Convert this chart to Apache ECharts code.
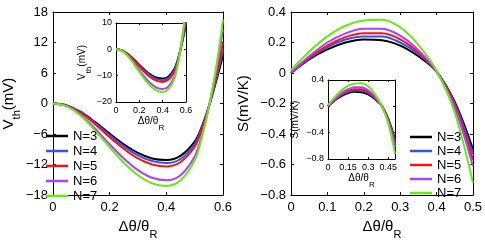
<!DOCTYPE html>
<html><head><meta charset="utf-8">
<script src="https://cdn.jsdelivr.net/npm/echarts@6/dist/echarts.min.js"></script>
<style>html,body{margin:0;padding:0;background:#fff}#c{width:485px;height:245px}</style>
</head><body><div id="c"></div>
<script>
// ---- data ----
const seriesNames = ['N=3','N=4','N=5','N=6','N=7'];
const seriesColors = ['#000000','#2f55f0','#ff1010','#b040ff','#66ea10'];

// Left panel: threshold voltage V_th (mV) vs Δθ/θ_R
const vthX  = [0, 0.05, 0.1, 0.15, 0.2, 0.25, 0.3, 0.35, 0.4, 0.45, 0.5, 0.525, 0.55, 0.575, 0.6];
const vthN3 = [0, -0.4, -1.7, -3.7, -5.9, -8.0, -9.7, -10.8, -11.1, -10.3, -7.5, -4.6, -0.6, 4.2, 9.5];
const vthN4 = [0, -0.4, -1.8, -3.9, -6.2, -8.4, -10.2, -11.3, -11.7, -10.9, -8.0, -4.9, -0.6, 4.6, 10.5];
const vthN5 = [0, -0.4, -1.9, -4.1, -6.6, -8.9, -10.8, -12.0, -12.4, -11.5, -8.5, -5.2, -0.6, 5.2, 12.0];
const vthN6 = [0, -0.5, -2.3, -5.0, -8.0, -10.8, -13.1, -14.6, -15.1, -14.1, -10.4, -6.3, -0.7, 6.3, 14.5];
const vthN7 = [0, -0.6, -2.5, -5.4, -8.6, -11.6, -14.1, -15.7, -16.2, -15.1, -11.2, -6.8, -0.8, 6.8, 16.5];

// Right panel: Seebeck S (mV/K) vs Δθ/θ_R
const sX  = [0, 0.05, 0.1, 0.15, 0.2, 0.25, 0.3, 0.35, 0.4, 0.45, 0.5];
const sN3 = [0, 0.09, 0.155, 0.2, 0.22, 0.215, 0.18, 0.11, 0.01, -0.19, -0.5];
const sN4 = [0, 0.095, 0.17, 0.22, 0.24, 0.24, 0.2, 0.125, 0.01, -0.2, -0.53];
const sN5 = [0, 0.1, 0.18, 0.235, 0.26, 0.26, 0.22, 0.135, 0.01, -0.21, -0.57];
const sN6 = [0.005, 0.11, 0.2, 0.26, 0.29, 0.29, 0.245, 0.15, 0.01, -0.23, -0.61];
const sN7 = [0.02, 0.14, 0.24, 0.31, 0.345, 0.35, 0.3, 0.185, 0.015, -0.26, -0.72];

// tick settings
const vthXTicks = [0, 0.6, 0.2];    // min, max, interval
const vthYTicks = [-18, 18, 6];
const vthInsetY = [-20, 10, 10];
const sXTicks = [0, 0.5, 0.1];
const sYTicks = [-0.8, 0.4, 0.2];
const sInsetX = [0, 0.5, 0.15];
const sInsetY = [-0.8, 0.4, 0.4];

// ---- chart ----
const FONT = 'Liberation Sans, Arial, Helvetica, sans-serif';
const vthSets = [vthN3, vthN4, vthN5, vthN6, vthN7];
const sSets = [sN3, sN4, sN5, sN6, sN7];
function fmt(v){ return String(Math.round(v*100)/100).replace('-', '\u2212'); }
function pairs(xs, ys){ return xs.map((x,i)=>[x, ys[i]]); }

const richTitle = (size, sub) => ({
  a: {fontSize: size, fontFamily: FONT, color:'#000', verticalAlign:'top', lineHeight: size+6},
  s: {fontSize: sub, fontFamily: FONT, color:'#000', verticalAlign:'bottom', lineHeight: size+6}
});

function xAx(grid, t, opts){
  return Object.assign({
    type:'value', gridIndex: grid, min:t[0], max:t[1], interval:t[2], position:'bottom',
    axisLine:{show:true, onZero:false, lineStyle:{color:'#000', width:1}},
    axisTick:{show:true, inside:true, length:3, lineStyle:{color:'#000'}},
    axisLabel:{fontSize:13, fontFamily:FONT, color:'#000', margin:6, formatter: fmt, showMaxLabel:true},
    splitLine:{show:false}
  }, opts||{});
}
function yAx(grid, t, opts){
  return Object.assign({
    type:'value', gridIndex: grid, min:t[0], max:t[1], interval:t[2], position:'left',
    axisLine:{show:true, onZero:false, lineStyle:{color:'#000', width:1}},
    axisTick:{show:true, inside:true, length:3, lineStyle:{color:'#000'}},
    axisLabel:{fontSize:13, fontFamily:FONT, color:'#000', margin:5, formatter: fmt},
    splitLine:{show:false}
  }, opts||{});
}
function mirror(ax, pos){
  return Object.assign({}, ax, {position:pos, name:'', axisLabel:{show:false}});
}

const xAxes = [], yAxes = [];
let a;
// grid 0: left main
a = xAx(0, vthXTicks, {name:'{a|\u0394\u03b8/\u03b8}{s|R}', nameLocation:'middle', nameGap:20, nameTextStyle:{rich: richTitle(15, 11)}});
xAxes.push(a, mirror(a,'top'));
a = yAx(0, vthYTicks, {name:'{a|V}{s|th}{a|(mV)}', nameLocation:'middle', nameGap:21, nameRotate:90, nameTextStyle:{rich: richTitle(15, 11)}});
yAxes.push(a, mirror(a,'right'));
// grid 1: left inset
const insetLbl = {fontSize:9, fontFamily:FONT, color:'#000', margin:4, formatter: fmt};
const insetTick = {inside:true, length:2, lineStyle:{color:'#000'}};
a = xAx(1, vthXTicks, {z:6, axisLabel:insetLbl, axisTick:insetTick, name:'{a|\u0394\u03b8/\u03b8}{s|R}', nameLocation:'middle', nameGap:14, nameTextStyle:{rich: richTitle(10, 8)}});
xAxes.push(a, mirror(a,'top'));
a = yAx(1, vthInsetY, {z:6, axisLabel:insetLbl, axisTick:insetTick, name:'{a|V}{s|th}{a|(mV)}', nameLocation:'middle', nameGap:20, nameRotate:90, nameTextStyle:{rich: richTitle(10, 8)}});
yAxes.push(a, mirror(a,'right'));
// grid 2: right main
a = xAx(2, sXTicks, {name:'{a|\u0394\u03b8/\u03b8}{s|R}', nameLocation:'middle', nameGap:20, nameTextStyle:{rich: richTitle(15, 11)}});
xAxes.push(a, mirror(a,'top'));
a = yAx(2, sYTicks, {name:'{a|S(mV/K)}', nameLocation:'middle', nameGap:34, nameRotate:90, nameTextStyle:{rich: richTitle(15, 11)}});
yAxes.push(a, mirror(a,'right'));
// grid 3: right inset
a = xAx(3, sInsetX, {z:6, axisLabel:Object.assign({}, insetLbl, {showMaxLabel:false}), axisTick:insetTick, name:'{a|\u0394\u03b8/\u03b8}{s|R}', nameLocation:'middle', nameGap:13, nameTextStyle:{rich: richTitle(10, 8)}});
xAxes.push(a, mirror(a,'top'));
a = yAx(3, sInsetY, {z:6, axisLabel:insetLbl, axisTick:insetTick, name:'{a|S(mV/K)}', nameLocation:'middle', nameGap:22, nameRotate:90, nameTextStyle:{rich: richTitle(10, 8)}});
yAxes.push(a, mirror(a,'right'));

const series = [];
function addSet(sets, xs, axisIdx, z){
  sets.forEach((ys, i) => {
    series.push({
      type:'line', name: seriesNames[i], xAxisIndex: axisIdx*2, yAxisIndex: axisIdx*2,
      data: pairs(xs, ys), smooth: 0.35, showSymbol:false, symbol:'none', z: z, clip:true,
      lineStyle:{color: seriesColors[i], width: 2}, itemStyle:{color: seriesColors[i]},
      emphasis:{disabled:true}, animation:false
    });
  });
}
addSet(vthSets, vthX, 0, 2);
addSet(vthSets, vthX, 1, 7);
addSet(sSets, sX, 2, 2);
addSet(sSets, sX, 3, 7);

const legendBase = {
  orient:'vertical', icon:'rect', itemWidth:22, itemHeight:2.5, itemGap:1,
  textStyle:{fontSize:13, fontFamily:FONT, color:'#000', lineHeight:14},
  data: seriesNames, selectedMode:false, backgroundColor:'transparent', padding:0
};

const option = {
  backgroundColor:'#fff',
  animation:false,
  grid:[
    {left:41, top:12, width:182, height:192, show:true, borderWidth:0, backgroundColor:'transparent'},
    {left:116, top:23, width:70, height:79, show:true, borderWidth:0, backgroundColor:'#fff', z:5},
    {left:291, top:12, width:182, height:192, show:true, borderWidth:0, backgroundColor:'transparent'},
    {left:328, top:80, width:67, height:79, show:true, borderWidth:0, backgroundColor:'#fff', z:5}
  ],
  xAxis: xAxes,
  yAxis: yAxes,
  legend:[
    Object.assign({}, legendBase, {left:46, top:129}),
    Object.assign({}, legendBase, {left:410, top:130, itemGap:0})
  ],
  series: series
};
const chart = echarts.init(document.getElementById('c'), null, {renderer:'canvas'});
chart.setOption(option);
</script></body></html>
